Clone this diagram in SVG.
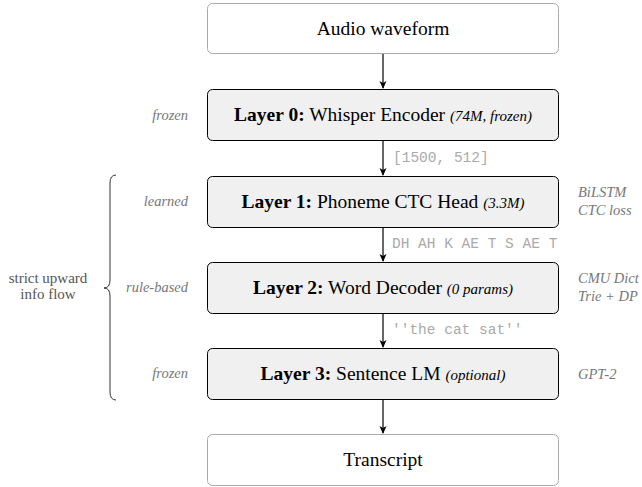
<svg xmlns="http://www.w3.org/2000/svg" width="642" height="487" viewBox="0 0 642 487">
<defs>
<marker id="ah" markerWidth="9" markerHeight="9" refX="7" refY="4.5" orient="auto" markerUnits="userSpaceOnUse">
<path d="M0,1 L8,4.5 L0,8 L2,4.5 Z" fill="#000"/>
</marker>
<style>
.io{fill:#fff;stroke:#aaa;stroke-width:1}
.ly{fill:#f0f0f0;stroke:#000;stroke-width:1}
.t{font-size:19.5px;fill:#000;text-anchor:middle}
.b{font-weight:bold}
.p{font-style:italic;font-size:15px}
.side{font-size:14.5px;font-style:italic;fill:#777}
.mono{font-size:14.5px;fill:#aaa}
.bt{font-size:15px;fill:#555;text-anchor:middle}
.c{stroke:#000;stroke-width:1.2;fill:none}
</style>
</defs>
<g id="connectors">
<line class="c" x1="383" y1="53" x2="383" y2="88" marker-end="url(#ah)"/>
<line class="c" x1="383" y1="140" x2="383" y2="175" marker-end="url(#ah)"/>
<line class="c" x1="383" y1="227" x2="383" y2="261" marker-end="url(#ah)"/>
<line class="c" x1="383" y1="313" x2="383" y2="347" marker-end="url(#ah)"/>
<line class="c" x1="383" y1="399" x2="383" y2="433" marker-end="url(#ah)"/>
<g font-family="Liberation Mono, Courier New, monospace">
<text class="mono" x="393" y="162">[1500, 512]</text>
<text class="mono" x="392" y="248">DH AH K AE T S AE T</text>
<text class="mono" x="392" y="334">''the cat sat''</text>
</g>
</g>
<g font-family="Liberation Serif, Times New Roman, DejaVu Serif, serif">
<g id="audio">
<rect class="io" x="207.5" y="3.5" width="351" height="50" rx="5"/>
<text class="t" x="383" y="35">Audio waveform</text>
</g>
<g id="layer0">
<rect class="ly" x="207.5" y="89.5" width="351" height="51" rx="5"/>
<text class="t" x="383" y="121"><tspan class="b">Layer 0:</tspan> Whisper Encoder <tspan class="p">(74M, frozen)</tspan></text>
<text class="side" x="188" y="120" text-anchor="end">frozen</text>
</g>
<g id="layer1">
<rect class="ly" x="207.5" y="176.5" width="351" height="51" rx="5"/>
<text class="t" x="383" y="208"><tspan class="b">Layer 1:</tspan> Phoneme CTC Head <tspan class="p">(3.3M)</tspan></text>
<text class="side" x="188" y="206" text-anchor="end">learned</text>
<text class="side" x="578" y="197">BiLSTM</text>
<text class="side" x="578" y="215">CTC loss</text>
</g>
<g id="layer2">
<rect class="ly" x="207.5" y="262.5" width="351" height="51" rx="5"/>
<text class="t" x="383" y="294"><tspan class="b">Layer 2:</tspan> Word Decoder <tspan class="p">(0 params)</tspan></text>
<text class="side" x="188" y="292" text-anchor="end">rule-based</text>
<text class="side" x="578" y="283">CMU Dict</text>
<text class="side" x="578" y="301">Trie + DP</text>
</g>
<g id="layer3">
<rect class="ly" x="207.5" y="348.5" width="351" height="51" rx="5"/>
<text class="t" x="383" y="380"><tspan class="b">Layer 3:</tspan> Sentence LM <tspan class="p">(optional)</tspan></text>
<text class="side" x="188" y="378" text-anchor="end">frozen</text>
<text class="side" x="578" y="379">GPT-2</text>
</g>
<g id="transcript">
<rect class="io" x="207.5" y="434.5" width="351" height="51" rx="5"/>
<text class="t" x="383" y="466">Transcript</text>
</g>
<g id="brace">
<path d="M116,175 Q110,175 110,183 L110,280 Q110,288 104,288 Q110,288 110,296 L110,392 Q110,400 116,400" fill="none" stroke="#000" stroke-width="0.8"/>
<text class="bt" x="48" y="283">strict upward</text>
<text class="bt" x="48" y="299">info flow</text>
</g>
</g>
</svg>
